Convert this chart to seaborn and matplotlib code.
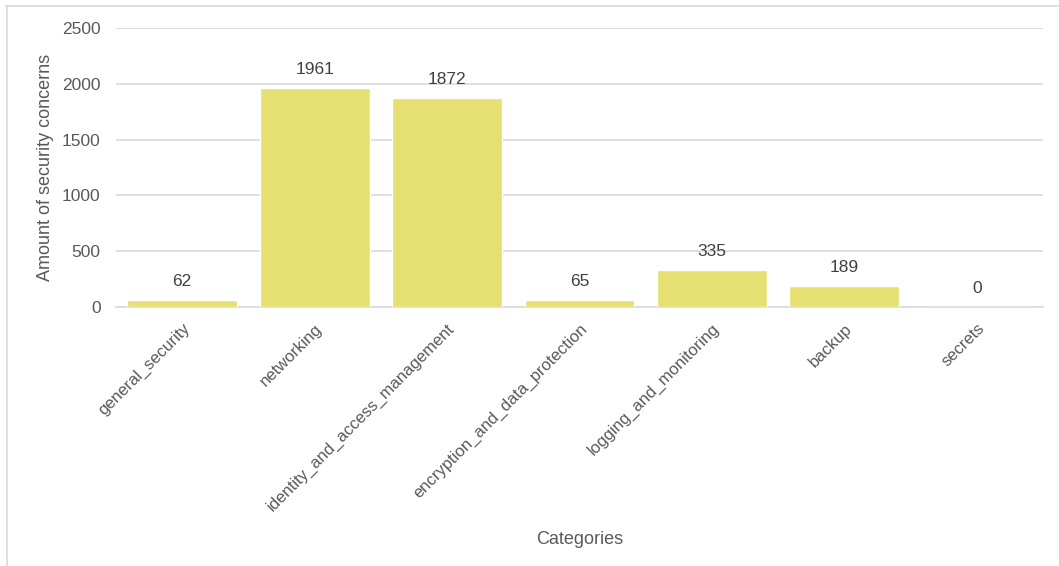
import matplotlib
matplotlib.use("Agg")
import matplotlib.pyplot as plt
import seaborn as sns
import pandas as pd
from matplotlib.lines import Line2D

categories = ["general_security", "networking", "identity_and_access_management",
              "encryption_and_data_protection", "logging_and_monitoring", "backup", "secrets"]
values = [62, 1961, 1872, 65, 335, 189, 0]
yticks = [0, 500, 1000, 1500, 2000, 2500]

df = pd.DataFrame({"Categories": categories, "Amount": values})

sns.set_theme(style="white")
plt.rcParams["font.family"] = ["Liberation Sans", "DejaVu Sans"]

fig = plt.figure(figsize=(10.59, 5.66), dpi=100)
ax = fig.add_axes([116/1059, 1-307/566, (1043-116)/1059, (307-28)/566])

sns.barplot(data=df, x="Categories", y="Amount", color="#E6E072", saturation=1,
            width=0.83, ax=ax, zorder=3)

ax.set_ylim(0, 2500)
ax.set_yticks(yticks)
ax.set_yticklabels([str(t) for t in yticks], color="#595959", fontsize=12.5)
ax.yaxis.grid(True, color="#D9D9D9", linewidth=1.2, zorder=0)
ax.set_axisbelow(True)
for s in ["top", "right", "left"]:
    ax.spines[s].set_visible(False)
ax.spines["bottom"].set_color("#D9D9D9")
ax.spines["bottom"].set_linewidth(1.2)
ax.tick_params(axis="y", length=0, pad=11)

ax.set_xticks(range(len(categories)))
ax.set_xticklabels(categories, rotation=45, ha="right", va="top",
                   rotation_mode="anchor", color="#595959", fontsize=12)
ax.tick_params(axis="x", length=0, pad=10)

for i, v in enumerate(values):
    ax.annotate(str(v), (i, v), xytext=(0, 8), textcoords="offset points",
                ha="center", va="bottom", color="#404040", fontsize=12.5)

ax.set_xlabel("Categories", color="#595959", fontsize=13, labelpad=0)
ax.xaxis.set_label_coords((580-116)/(1043-116), -(531-307)/(307-28))
ax.set_ylabel("Amount of security concerns", color="#595959", fontsize=13)
ax.yaxis.set_label_coords(-(116-54)/(1043-116), 0.5)

fig.add_artist(Line2D([6/1059, 1.0], [1-5.5/566, 1-5.5/566], color="#D9D9D9", linewidth=1.2))
fig.add_artist(Line2D([6.5/1059, 6.5/1059], [0, 1-5.5/566], color="#D9D9D9", linewidth=1.2))

fig.savefig("out.png", dpi=100)
